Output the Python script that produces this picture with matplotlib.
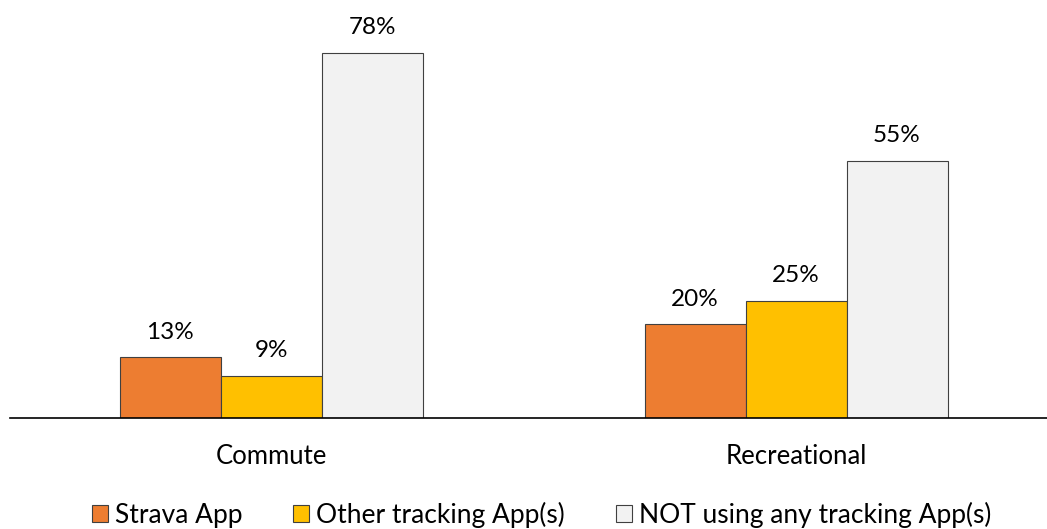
import matplotlib
matplotlib.use("Agg")
import matplotlib.pyplot as plt
import numpy as np

plt.rcParams['font.family'] = ['Lato', 'DejaVu Sans']

categories = ["Commute", "Recreational"]
series_names = ["Strava App", "Other tracking App(s)", "NOT using any tracking App(s)"]
strava = [13, 20]
other = [9, 25]
none_used = [78, 55]
colors = ["#ED7D31", "#FFC000", "#F2F2F2"]

W, H = 1047, 529
fig = plt.figure(figsize=(W / 100, H / 100), dpi=100)
ax = fig.add_axes([10 / W, (H - 418) / H, (W - 10) / W, (418 - 10) / H])

x = np.arange(len(categories))
bw = 101 / 525
for i, (vals, c) in enumerate(zip([strava, other, none_used], colors)):
    pos = x + (i - 1) * bw
    bars = ax.bar(pos, vals, width=bw, color=c, edgecolor="#404040",
                  linewidth=0.8, label=series_names[i], zorder=2)
    for b, v in zip(bars, vals):
        ax.annotate(f"{v}%", (b.get_x() + b.get_width() / 2, v),
                    xytext=(0, 10.5), textcoords="offset points",
                    ha="center", va="bottom", fontsize=17.5, color="#000000")

ax.set_xlim(-(271 - 10) / 525, 1 + (W - 796) / 525)
ax.set_ylim(0, (418 - 10) / 4.68)
for s in ["top", "right", "left"]:
    ax.spines[s].set_visible(False)
ax.spines["bottom"].set_color("#000000")
ax.spines["bottom"].set_linewidth(1.2)
ax.set_yticks([])
ax.set_xticks(x)
ax.set_xticklabels(categories, fontsize=18.5)
ax.tick_params(axis="x", length=0, pad=18.5)

leg = fig.legend(loc="center", bbox_to_anchor=(541.5 / W, 1 - 515 / H), ncol=3,
                 frameon=False, fontsize=19, handlelength=0.6, handleheight=0.6,
                 handletextpad=0.25, columnspacing=1.95)

fig.savefig("out.png", dpi=100)
